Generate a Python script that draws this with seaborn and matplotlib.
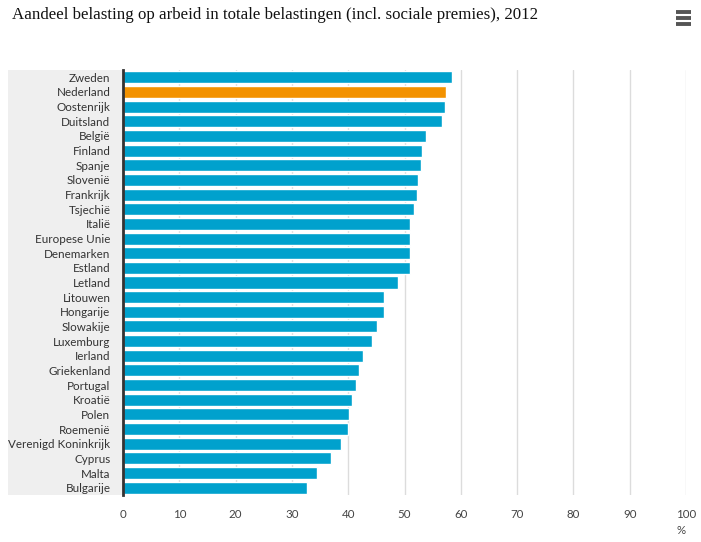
import matplotlib
matplotlib.use("Agg")
import matplotlib.pyplot as plt
import seaborn as sns
import pandas as pd
import numpy as np
from matplotlib.patches import Rectangle
from matplotlib.lines import Line2D

countries = ["Zweden", "Nederland", "Oostenrijk", "Duitsland", "België", "Finland",
             "Spanje", "Slovenië", "Frankrijk", "Tsjechië", "Italië", "Europese Unie",
             "Denemarken", "Estland", "Letland", "Litouwen", "Hongarije", "Slowakije",
             "Luxemburg", "Ierland", "Griekenland", "Portugal", "Kroatië", "Polen",
             "Roemenië", "Verenigd Koninkrijk", "Cyprus", "Malta", "Bulgarije"]
values = [58.5, 57.4, 57.2, 56.6, 53.8, 53.1, 52.9, 52.4, 52.2, 51.7, 51.0, 51.0,
          51.0, 51.0, 48.8, 46.3, 46.3, 45.2, 44.2, 42.6, 41.9, 41.3, 40.6, 40.2,
          39.9, 38.8, 37.0, 34.5, 32.7]
x_ticks = [0, 10, 20, 30, 40, 50, 60, 70, 80, 90, 100]
title = "Aandeel belasting op arbeid in totale belastingen (incl. sociale premies), 2012"
highlight = "Nederland"

BLUE = "#00A1CD"
ORANGE = "#F39200"

df = pd.DataFrame({"land": countries, "waarde": values})
palette = {c: (ORANGE if c == highlight else BLUE) for c in countries}

sns.set_style("white")
plt.rcParams["font.family"] = ["Lato", "DejaVu Sans"]

fig = plt.figure(figsize=(7.01, 5.42), dpi=100)
W, H = 701, 542
left, right, top, bottom = 123, 686, 70, 495
ax = fig.add_axes([left / W, 1 - bottom / H, (right - left) / W, (bottom - top) / H])

# gray label background
fig.add_artist(Rectangle((8 / W, 1 - bottom / H), (left - 8) / W, (bottom - top) / H,
                         transform=fig.transFigure, facecolor="#EFEFEF",
                         edgecolor="none", zorder=0))
ax.set_facecolor("none")

sns.barplot(data=df, y="land", x="waarde", hue="land", palette=palette,
            order=countries, hue_order=countries, legend=False, width=0.82,
            saturation=1, ax=ax, zorder=3)

ax.set_xlim(0, 100)
ax.set_ylim(len(countries) - 0.5, -0.5)
ax.set_xticks(x_ticks)
ax.set_xticklabels([str(t) for t in x_ticks])
ax.grid(axis="x", color="#DCDCDC", lw=1, zorder=0)
ax.set_axisbelow(True)
for s in ["top", "right", "bottom"]:
    ax.spines[s].set_visible(False)
ax.spines["left"].set_color("#333333")
ax.spines["left"].set_linewidth(2)
ax.spines["left"].set_zorder(5)

ax.tick_params(axis="x", length=0, pad=10, labelsize=8.3, labelcolor="#444444")
ax.tick_params(axis="y", which="major", length=0, pad=9, labelsize=8.4,
               labelcolor="#333333")
ax.set_yticks(np.arange(len(countries) + 1) - 0.5, minor=True)
ax.tick_params(axis="y", which="minor", length=8, width=1, color="#C8C8C8")
ax.set_xlabel("")
ax.set_ylabel("")

fig.text(686 / W, 1 - 530 / H, "%", ha="right", va="center", fontsize=8.3,
         color="#444444")
fig.text(12 / W, 1 - 15 / H, title, ha="left", va="center", fontsize=12.2,
         family=["Liberation Serif", "DejaVu Serif"], color="#111111")

# menu icon
for yy in (12, 18, 24):
    fig.add_artist(Line2D([676 / W, 691 / W], [1 - yy / H, 1 - yy / H],
                          transform=fig.transFigure, color="#555555", lw=2.8,
                          solid_capstyle="butt"))

fig.savefig("out.png", dpi=100, facecolor="white")
